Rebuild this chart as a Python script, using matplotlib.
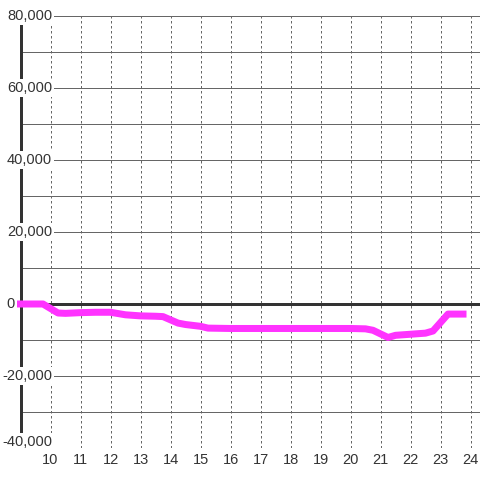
import matplotlib.pyplot as plt
from matplotlib.transforms import ScaledTranslation

# hours of day and values
hours = [9.0, 9.5, 9.75, 10.25, 10.5, 11.0, 11.5, 12.0, 12.5, 13.0, 13.5, 13.75,
         14.25, 14.5, 15.0, 15.25, 16.0, 17.0, 18.0, 19.0, 20.0, 20.5, 20.75,
         21.25, 21.5, 22.0, 22.5, 22.75, 23.25, 23.75]
values = [0, 0, 0, -2500, -2600, -2400, -2300, -2300, -3000, -3300, -3400, -3500,
          -5300, -5700, -6200, -6700, -6800, -6800, -6800, -6800, -6800, -6900, -7300,
          -9300, -8700, -8400, -8100, -7500, -2800, -2800]

x_ticks = list(range(10, 25))
y_grid = list(range(-40000, 80001, 10000))
y_ticks = list(range(-40000, 80001, 20000))

px = 72 / 100  # one pixel in points at dpi 100

fig = plt.figure(figsize=(4.8, 4.8), dpi=100)
ax = fig.add_axes([20.5 / 480, 32 / 480, 459.5 / 480, 432 / 480])
ax.set_xlim(9.0, 9.0 + 459.5 / 30)
ax.set_ylim(-40000, 80000)

for y in y_grid:
    ax.axhline(y, color="#666666", lw=1 * px, zorder=1)
for x in x_ticks:
    ax.axvline(x, color="#666666", lw=1 * px, linestyle=(0, (2.5, 2.5)), zorder=1)
ax.axhline(0, color="#333333", lw=3 * px, zorder=2)

ax.plot(hours, values, color="#ff33ff", lw=7 * px, zorder=3, clip_on=False,
        solid_capstyle="projecting", solid_joinstyle="round")

for side in ["top", "right", "bottom"]:
    ax.spines[side].set_visible(False)
ax.spines["left"].set_color("#333333")
ax.spines["left"].set_linewidth(3 * px)
ax.spines["left"].set_zorder(2.5)

ax.set_xticks(x_ticks)
ax.set_yticks([])
ax.tick_params(axis="x", length=0, labelsize=10.5, labelcolor="#333333",
               labelfontfamily="Liberation Sans", pad=5.5 * px)

# y labels sit inside the plot, on white boxes over the axis line
for v in y_ticks:
    dx, dy = 31.5, 0
    if v == 0:
        dx = -5.5
    if v == y_ticks[0]:
        dy = 6
    tr = ax.get_yaxis_transform() + ScaledTranslation(dx / 100, dy / 100, fig.dpi_scale_trans)
    bbox = None if v == 0 else dict(facecolor="white", edgecolor="none", pad=1.2)
    ax.text(0, v, f"{v:,}", transform=tr, ha="right", va="center",
            fontsize=10.5, color="#333333", family="Liberation Sans",
            bbox=bbox, zorder=4, clip_on=False)

fig.savefig("out.png", dpi=100)
